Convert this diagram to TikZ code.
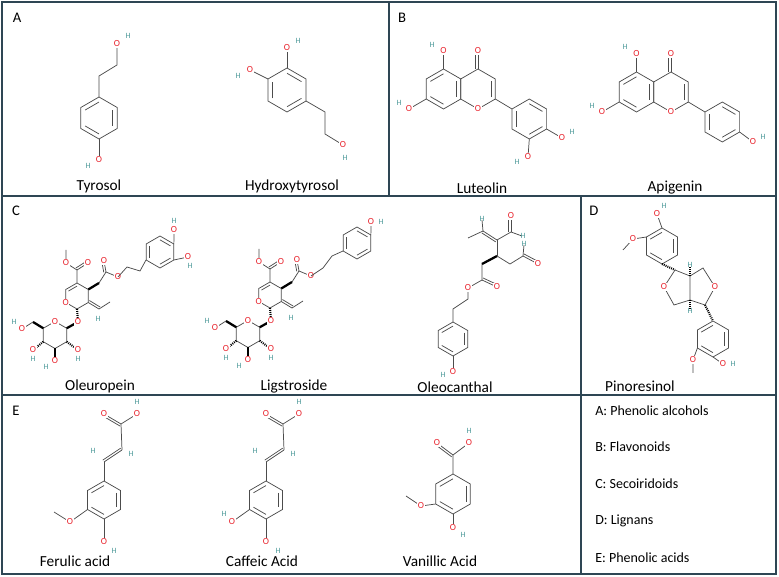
\documentclass[tikz,border=0pt]{standalone}
\usepackage{fontspec}
\setmainfont{Carlito}
\usetikzlibrary{calc}
\definecolor{frame}{HTML}{2E4654}
\definecolor{oxr}{HTML}{E8202A}
\definecolor{hcol}{HTML}{4E9A9A}
\tikzset{
 bond/.style={line width=0.55pt, draw=black!70},
 wedge/.style={line width=1.7pt, draw=black},
 hash/.style={line width=1.6pt, draw=black, dash pattern=on 0.7pt off 0.8pt},
 oat/.style={text=oxr, font=\fontsize{7}{7}\selectfont, fill=white, inner sep=0.4pt},
 hat/.style={text=hcol, font=\fontsize{6}{6}\selectfont, inner sep=0.3pt},
 lab/.style={font=\fontsize{11.5}{12}\selectfont, inner sep=0pt},
 plet/.style={font=\fontsize{11}{12}\selectfont, inner sep=0pt},
 leg/.style={font=\fontsize{10.5}{12}\selectfont, anchor=west, inner sep=0pt},
}
\newcommand\hexo[4]{%
 \foreach \i/\a in {1/-90,2/-30,3/30,4/90,5/150,6/210}{\coordinate (#1\i) at ($(#2,#3)+(\a:#4)$);}
 \coordinate (#1c) at (#2,#3);
 \draw[bond] (#11)--(#12)--(#13)--(#14)--(#15)--(#16)--cycle;}
\newcommand\inn[3]{\draw[bond] ($(#1c)!.76!(#1#2)$) -- ($(#1c)!.76!(#1#3)$);}
\newcommand\benz[5]{\hexo{#1}{#2}{#3}{#4}\ifnum#5=0 \inn{#1}{1}{2}\inn{#1}{3}{4}\inn{#1}{5}{6}\else\inn{#1}{2}{3}\inn{#1}{4}{5}\inn{#1}{6}{1}\fi}
\newcommand\dbl[2]{\draw[bond] (#1) -- (#2); \draw[bond] ($(#1)!1.7pt!90:(#2)$) -- ($(#2)!1.7pt!-90:(#1)$);}
\newcommand\secoi[1]{%
 \hexo{#1p}{77}{296}{13}\inn{#1p}{6}{1}
 \draw[bond] (#1p1)--(77,270)--(66,263)--(66,250);
 \dbl{77,270}{88,263}
 \draw[wedge] (#1p2)--(99,283);
 \draw[bond] (99,283)--(106,272)--(118,277);
 \dbl{106,272}{104,261}
 \dbl{#1p3}{99,309}
 \draw[bond] (99,309)--(110,302);
 \draw[hash] (#1p4)--(78,322);
 \hexo{#1g}{55}{335}{13.5}
 \draw[wedge] (#1g2)--(78,322);
 \draw[wedge] (#1g6)--(33,322); \draw[bond] (33,322)--(22,329);
 \draw[hash] (#1g5)--(33,350);
 \draw[wedge] (#1g4)--(55,361);
 \draw[hash] (#1g3)--(78,350);
 \node[oat] (#1o1) at (#1p5) {O};
 \node[oat] (#1o2) at (66,263) {O};
 \node[oat] (#1o3) at (88,263) {O};
 \node[oat] (#1o4) at (104,261) {O};
 \node[oat] (#1o5) at (118,277) {O};
 \node[oat] (#1o6) at (78,322) {O};
 \node[oat] (#1o7) at (#1g1) {O};
 \node[oat] (#1o8) at (22,329) {O}; \node[hat] (#1h8) at (14,322) {H};
 \node[oat] (#1o9) at (33,350) {O}; \node[hat] (#1h9) at (33,359) {H};
 \node[oat] (#1o10) at (55,361) {O}; \node[hat] (#1h10) at (46,367) {H};
 \node[oat] (#1o11) at (78,350) {O}; \node[hat] (#1h11) at (78,359) {H};
 \node[hat] (#1h12) at (98,319) {H};}
\begin{document}
\begin{tikzpicture}[x=0.75pt,y=-0.75pt]
\useasboundingbox (0,0) rectangle (779,577);
\fill[white] (0,0) rectangle (779,577);
% frames
\draw[frame, line width=1.5pt] (2,2) rectangle (776,574);
\draw[frame, line width=1.5pt] (2,196) -- (776,196);
\draw[frame, line width=1.5pt] (2,395) -- (776,395);
\draw[frame, line width=1.5pt] (389,2) -- (389,196);
\draw[frame, line width=1.5pt] (581,196) -- (581,574);
% panel letters
\node[plet] (LA) at (17,18) {A};
\node[plet] (LB) at (402,18) {B};
\node[plet] (LC) at (16,211) {C};
\node[plet] (LD) at (594,211) {D};
\node[plet] (LE) at (16,411) {E};
% ---------- Tyrosol
\benz{ty}{99}{118}{21}{1}
\draw[bond] (ty1)--(99,76)--(117,65)--(117,44);
\draw[bond] (ty4)--(99,160);
\node[oat] (tyO1) at (117,44) {O}; \node[hat] (tyH1) at (128,36) {H};
\node[oat] (tyO2) at (99,160) {O}; \node[hat] (tyH2) at (88,166) {H};
\node[lab] (tyL) at (99,186) {Tyrosol};
% ---------- Hydroxytyrosol
\benz{hy}{287}{90}{22}{0}
\draw[bond] (hy1)--(287,48);
\draw[bond] (hy6)--(250,70);
\draw[bond] (hy3)--(325,112)--(325,134)--(343,145);
\node[oat] (hyO1) at (287,48) {O}; \node[hat] (hyH1) at (298,41) {H};
\node[oat] (hyO2) at (250,70) {O}; \node[hat] (hyH2) at (238,76) {H};
\node[oat] (hyO3) at (343,145) {O}; \node[hat] (hyH3) at (345,158) {H};
\node[lab] (hyL) at (292,186) {Hydroxytyrosol};
% ---------- Luteolin
\benz{lA}{443.5}{89}{20}{1}
\hexo{lC}{478}{89}{20}\inn{lC}{2}{3}
\benz{lB}{529.3}{119}{20}{0}
\dbl{lC1}{478,51}
\draw[bond] (lA1)--(443.5,51);
\draw[bond] (lA5)--(409,109);
\draw[bond] (lC3)--(lB6);
\draw[bond] (lB3)--(562,138);
\draw[bond] (lB4)--(528,157);
\node[oat] (luO1) at (443.5,51) {O}; \node[hat] (luH1) at (432,45) {H};
\node[oat] (luO2) at (478,51) {O};
\node[oat] (luO3) at (lC4) {O};
\node[oat] (luO4) at (409,109) {O}; \node[hat] (luH4) at (399,103) {H};
\node[oat] (luO5) at (562,138) {O}; \node[hat] (luH5) at (572,132) {H};
\node[oat] (luO6) at (528,157) {O}; \node[hat] (luH6) at (517,162) {H};
\node[lab] (luL) at (482,188) {Luteolin};
% ---------- Apigenin
\benz{aA}{636.5}{92}{20}{1}
\hexo{aC}{671}{92}{20}\inn{aC}{2}{3}
\benz{aB}{722.3}{122}{20}{0}
\dbl{aC1}{671,54}
\draw[bond] (aA1)--(636.5,54);
\draw[bond] (aA5)--(602,112);
\draw[bond] (aC3)--(aB6);
\draw[bond] (aB3)--(753,142);
\node[oat] (apO1) at (636.5,54) {O}; \node[hat] (apH1) at (625,47) {H};
\node[oat] (apO2) at (671,54) {O};
\node[oat] (apO3) at (aC4) {O};
\node[oat] (apO4) at (602,112) {O}; \node[hat] (apH4) at (592,106) {H};
\node[oat] (apO5) at (753,142) {O}; \node[hat] (apH5) at (763,137) {H};
\node[lab] (apL) at (675,188) {Apigenin};
% ---------- Oleuropein
\secoi{ol}
\draw[bond] (118,277)--(127,267)--(140,271)--(146,260);
\benz{olr}{160}{252}{16}{0}
\draw[bond] (olr2)--(174,230);
\draw[bond] (olr3)--(188,257);
\node[oat] (olO12) at (174,230) {O}; \node[hat] (olH12) at (174,221) {H};
\node[oat] (olO13) at (188,257) {O}; \node[hat] (olH13) at (190,266) {H};
\node[lab] (olL) at (100,386) {Oleuropein};
% ---------- Ligstroside
\begin{scope}[shift={(193,-1)}]
\secoi{lg}
\draw[bond] (118,277)--(130,269)--(139,257)--(150,252);
\benz{lgr}{164}{244}{16}{0}
\draw[bond] (lgr2)--(178,223);
\node[oat] (lgO12) at (178,223) {O}; \node[hat] (lgH12) at (188,223) {H};
\end{scope}
\node[lab] (lgL) at (294,386) {Ligstroside};
% ---------- Oleocanthal
\benz{oc}{453}{339}{17}{1}
\draw[bond] (oc4)--(453,372);
\draw[bond] (oc1)--(453,309)--(468,299)--(468,288)--(482,280)--(482,264);
\dbl{482,280}{497,287}
\draw[wedge] (482,264)--(497,256);
\draw[bond] (497,256)--(497,240);
\draw[bond] (497,256)--(510,264)--(523,256)--(524,245);
\dbl{523,256}{538,264}
\dbl{497,240}{483,231}
\draw[bond] (483,231)--(468,238);
\draw[bond] (483,231)--(482,220);
\draw[bond] (497,240)--(511,232)--(522,236);
\dbl{511,232}{511,216}
\node[oat] (ocO1) at (453,372) {O}; \node[hat] (ocH1) at (443,375) {H};
\node[oat] (ocO2) at (468,288) {O};
\node[oat] (ocO3) at (497,287) {O};
\node[oat] (ocO4) at (538,264) {O};
\node[hat] (ocH4) at (524,244) {H};
\node[oat] (ocO5) at (511,216) {O};
\node[hat] (ocH5) at (523,236) {H};
\node[hat] (ocH6) at (482,219) {H};
\node[lab] (ocL) at (455,387) {Oleocanthal};
% ---------- Pinoresinol
\benz{pt}{662}{246}{18}{1}
\draw[bond] (pt1)--(657,214);
\draw[bond] (pt6)--(633,239)--(623,250);
\draw[hash] (pt4)--(675,270);
\draw[bond] (675,270)--(664,287)--(674,305)--(690,300)--(690,276)--cycle;
\draw[bond] (690,276)--(703,268)--(715,287)--(705,305)--(690,300);
\draw[hash] (690,276)--(690,267);
\draw[hash] (690,300)--(690,309);
\benz{pb}{713}{339}{18}{1}
\draw[hash] (705,305)--(pb1);
\draw[bond] (pb5)--(693,360)--(693,373);
\draw[bond] (pb4)--(723,364);
\node[oat] (piO1) at (657,214) {O}; \node[hat] (piH1) at (664,206) {H};
\node[oat] (piO2) at (633,239) {O};
\node[oat] (piO3) at (664,287) {O};
\node[oat] (piO4) at (715,287) {O};
\node[hat] (piH5) at (690,265) {H};
\node[hat] (piH6) at (690,311) {H};
\node[oat] (piO7) at (693,360) {O};
\node[oat] (piO8) at (723,364) {O}; \node[hat] (piH8) at (733,364) {H};
\node[lab] (piL) at (640,386) {Pinoresinol};
% ---------- Ferulic acid
\benz{fe}{104}{500}{19}{1}
\draw[bond] (fe1)--(104,462);
\dbl{104,462}{122,450}
\draw[bond] (122,450)--(121,424)--(137,414);
\dbl{121,424}{104,414}
\draw[bond] (fe5)--(70,522)--(54,512);
\draw[bond] (fe4)--(104,542);
\node[hat] (feH1) at (93,451) {H}; \node[hat] (feH2) at (131,454) {H};
\node[oat] (feO1) at (104,414) {O};
\node[oat] (feO2) at (137,414) {O}; \node[hat] (feH3) at (137,402) {H};
\node[oat] (feO3) at (70,522) {O};
\node[oat] (feO4) at (104,542) {O}; \node[hat] (feH4) at (114,551) {H};
\node[lab] (feL) at (75,561) {Ferulic acid};
% ---------- Caffeic Acid
\benz{ca}{266}{500}{19}{1}
\draw[bond] (ca1)--(266,462);
\dbl{266,462}{284,450}
\draw[bond] (284,450)--(283,424)--(299,414);
\dbl{283,424}{266,414}
\draw[bond] (ca5)--(232,522);
\draw[bond] (ca4)--(266,542);
\node[hat] (caH1) at (255,451) {H}; \node[hat] (caH2) at (293,454) {H};
\node[oat] (caO1) at (266,414) {O};
\node[oat] (caO2) at (299,414) {O}; \node[hat] (caH3) at (299,402) {H};
\node[oat] (caO3) at (232,522) {O}; \node[hat] (caH5) at (224,514) {H};
\node[oat] (caO4) at (266,542) {O}; \node[hat] (caH4) at (278,551) {H};
\node[lab] (caL) at (262,561) {Caffeic Acid};
% ---------- Vanillic Acid
\benz{va}{453}{494}{20}{1}
\draw[bond] (va1)--(453,455)--(469,443);
\dbl{453,455}{437,443}
\draw[bond] (va5)--(421,506)--(406,496);
\draw[bond] (va4)--(453,528);
\node[oat] (vaO1) at (437,443) {O};
\node[oat] (vaO2) at (469,443) {O}; \node[hat] (vaH2) at (469,431) {H};
\node[oat] (vaO3) at (421,506) {O};
\node[oat] (vaO4) at (453,528) {O}; \node[hat] (vaH4) at (463,535) {H};
\node[lab] (vaL) at (440,561) {Vanillic Acid};
% ---------- legend
\node[leg] (g1) at (595,411) {A: Phenolic alcohols};
\node[leg] (g2) at (595,447) {B: Flavonoids};
\node[leg] (g3) at (595,484) {C: Secoiridoids};
\node[leg] (g4) at (595,521) {D: Lignans};
\node[leg] (g5) at (595,558) {E: Phenolic acids};
\end{tikzpicture}
\end{document}
